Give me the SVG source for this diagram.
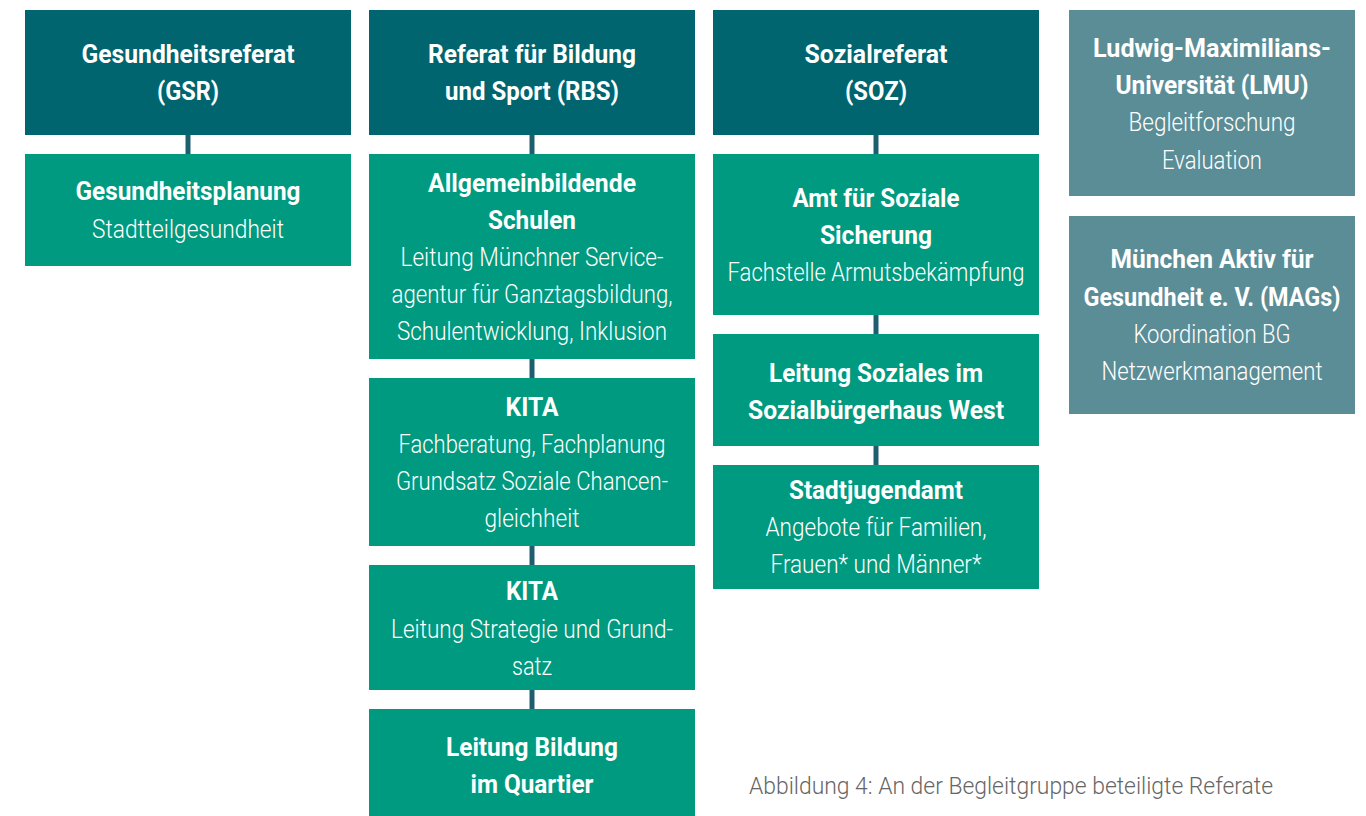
<svg xmlns="http://www.w3.org/2000/svg" width="1366" height="816" viewBox="0 0 1366 816">
  <style>
    .top { fill: #00656f; }
    .sub { fill: #009a80; }
    .ext { fill: #5b8d97; }
    .link { stroke: #1d5f6e; stroke-width: 5; fill: none; }
    text { font-family: Roboto, "Liberation Sans", sans-serif; font-size: 25px; fill: #ffffff; text-anchor: middle; }
    .b { font-weight: 700; }
    .l { font-weight: 300; }
    .cap { font-family: Roboto, "Liberation Sans", sans-serif; font-weight: 300; font-size: 24px; fill: #666666; text-anchor: start; }
  </style>
  <rect width="1366" height="816" fill="#ffffff"/>

  <!-- connectors -->
  <g id="connectors">
    <line class="link" x1="188" y1="134" x2="188" y2="155"/>
    <line class="link" x1="532" y1="134" x2="532" y2="155"/>
    <line class="link" x1="532" y1="359" x2="532" y2="379"/>
    <line class="link" x1="532" y1="545" x2="532" y2="566"/>
    <line class="link" x1="532" y1="689" x2="532" y2="710"/>
    <line class="link" x1="876" y1="134" x2="876" y2="155"/>
    <line class="link" x1="876" y1="314" x2="876" y2="335"/>
    <line class="link" x1="876" y1="445" x2="876" y2="466"/>
  </g>

  <!-- Gesundheitsreferat column -->
  <g id="gsr">
    <rect class="top" x="25" y="10" width="326" height="125"/>
    <text class="b" x="188" y="63" textLength="213" lengthAdjust="spacingAndGlyphs">Gesundheitsreferat</text>
    <text class="b" x="188" y="100" textLength="62" lengthAdjust="spacingAndGlyphs">(GSR)</text>
  </g>
  <g id="gsr-planung">
    <rect class="sub" x="25" y="154" width="326" height="112"/>
    <text class="b" x="188" y="200" textLength="225" lengthAdjust="spacingAndGlyphs">Gesundheitsplanung</text>
    <text class="l" x="188" y="238" textLength="192" lengthAdjust="spacingAndGlyphs">Stadtteilgesundheit</text>
  </g>

  <!-- Referat für Bildung und Sport column -->
  <g id="rbs">
    <rect class="top" x="369" y="10" width="326" height="125"/>
    <text class="b" x="532" y="63" textLength="208" lengthAdjust="spacingAndGlyphs">Referat für Bildung</text>
    <text class="b" x="532" y="100" textLength="174" lengthAdjust="spacingAndGlyphs">und Sport (RBS)</text>
  </g>
  <g id="rbs-schulen">
    <rect class="sub" x="369" y="154" width="326" height="205"/>
    <text class="b" x="532" y="192" textLength="208" lengthAdjust="spacingAndGlyphs">Allgemeinbildende</text>
    <text class="b" x="532" y="229" textLength="88" lengthAdjust="spacingAndGlyphs">Schulen</text>
    <text class="l" x="532" y="266" textLength="263" lengthAdjust="spacingAndGlyphs">Leitung Münchner Service-</text>
    <text class="l" x="532" y="303" textLength="281" lengthAdjust="spacingAndGlyphs">agentur für Ganztagsbildung,</text>
    <text class="l" x="532" y="340" textLength="270" lengthAdjust="spacingAndGlyphs">Schulentwicklung, Inklusion</text>
  </g>
  <g id="rbs-kita-fach">
    <rect class="sub" x="369" y="378" width="326" height="168"/>
    <text class="b" x="532" y="416" textLength="53" lengthAdjust="spacingAndGlyphs">KITA</text>
    <text class="l" x="532" y="453" textLength="267" lengthAdjust="spacingAndGlyphs">Fachberatung, Fachplanung</text>
    <text class="l" x="532" y="490" textLength="272" lengthAdjust="spacingAndGlyphs">Grundsatz Soziale Chancen-</text>
    <text class="l" x="532" y="527" textLength="95" lengthAdjust="spacingAndGlyphs">gleichheit</text>
  </g>
  <g id="rbs-kita-leitung">
    <rect class="sub" x="369" y="565" width="326" height="125"/>
    <text class="b" x="532" y="600" textLength="52" lengthAdjust="spacingAndGlyphs">KITA</text>
    <text class="l" x="532" y="638" textLength="282" lengthAdjust="spacingAndGlyphs">Leitung Strategie und Grund-</text>
    <text class="l" x="532" y="675" textLength="40" lengthAdjust="spacingAndGlyphs">satz</text>
  </g>
  <g id="rbs-biq">
    <rect class="sub" x="369" y="709" width="326" height="107"/>
    <text class="b" x="532" y="756" textLength="172" lengthAdjust="spacingAndGlyphs">Leitung Bildung</text>
    <text class="b" x="532" y="793" textLength="123" lengthAdjust="spacingAndGlyphs">im Quartier</text>
  </g>

  <!-- Sozialreferat column -->
  <g id="soz">
    <rect class="top" x="713" y="10" width="326" height="125"/>
    <text class="b" x="876" y="63" textLength="143" lengthAdjust="spacingAndGlyphs">Sozialreferat</text>
    <text class="b" x="876" y="100" textLength="62" lengthAdjust="spacingAndGlyphs">(SOZ)</text>
  </g>
  <g id="soz-amt">
    <rect class="sub" x="713" y="154" width="326" height="161"/>
    <text class="b" x="876" y="207" textLength="167" lengthAdjust="spacingAndGlyphs">Amt für Soziale</text>
    <text class="b" x="876" y="244" textLength="112" lengthAdjust="spacingAndGlyphs">Sicherung</text>
    <text class="l" x="876" y="281" textLength="297" lengthAdjust="spacingAndGlyphs">Fachstelle Armutsbekämpfung</text>
  </g>
  <g id="soz-sbh">
    <rect class="sub" x="713" y="334" width="326" height="112"/>
    <text class="b" x="876" y="382" textLength="214" lengthAdjust="spacingAndGlyphs">Leitung Soziales im</text>
    <text class="b" x="876" y="419" textLength="256" lengthAdjust="spacingAndGlyphs">Sozialbürgerhaus West</text>
  </g>
  <g id="soz-jugendamt">
    <rect class="sub" x="713" y="465" width="326" height="124"/>
    <text class="b" x="876" y="499" textLength="174" lengthAdjust="spacingAndGlyphs">Stadtjugendamt</text>
    <text class="l" x="876" y="536" textLength="221" lengthAdjust="spacingAndGlyphs">Angebote für Familien,</text>
    <text class="l" x="876" y="573" textLength="211" lengthAdjust="spacingAndGlyphs">Frauen* und Männer*</text>
  </g>

  <!-- external partners -->
  <g id="lmu">
    <rect class="ext" x="1069" y="10" width="286" height="186"/>
    <text class="b" x="1212" y="57" textLength="238" lengthAdjust="spacingAndGlyphs">Ludwig-Maximilians-</text>
    <text class="b" x="1212" y="94" textLength="193" lengthAdjust="spacingAndGlyphs">Universität (LMU)</text>
    <text class="l" x="1212" y="131" textLength="167" lengthAdjust="spacingAndGlyphs">Begleitforschung</text>
    <text class="l" x="1212" y="169" textLength="100" lengthAdjust="spacingAndGlyphs">Evaluation</text>
  </g>
  <g id="mags">
    <rect class="ext" x="1069" y="216" width="286" height="198"/>
    <text class="b" x="1212" y="268" textLength="203" lengthAdjust="spacingAndGlyphs">München Aktiv für</text>
    <text class="b" x="1212" y="306" textLength="257" lengthAdjust="spacingAndGlyphs">Gesundheit e. V. (MAGs)</text>
    <text class="l" x="1212" y="343" textLength="157" lengthAdjust="spacingAndGlyphs">Koordination BG</text>
    <text class="l" x="1212" y="380" textLength="221" lengthAdjust="spacingAndGlyphs">Netzwerkmanagement</text>
  </g>

  <text class="cap" x="749" y="794" textLength="524" lengthAdjust="spacingAndGlyphs">Abbildung 4: An der Begleitgruppe beteiligte Referate</text>
</svg>
